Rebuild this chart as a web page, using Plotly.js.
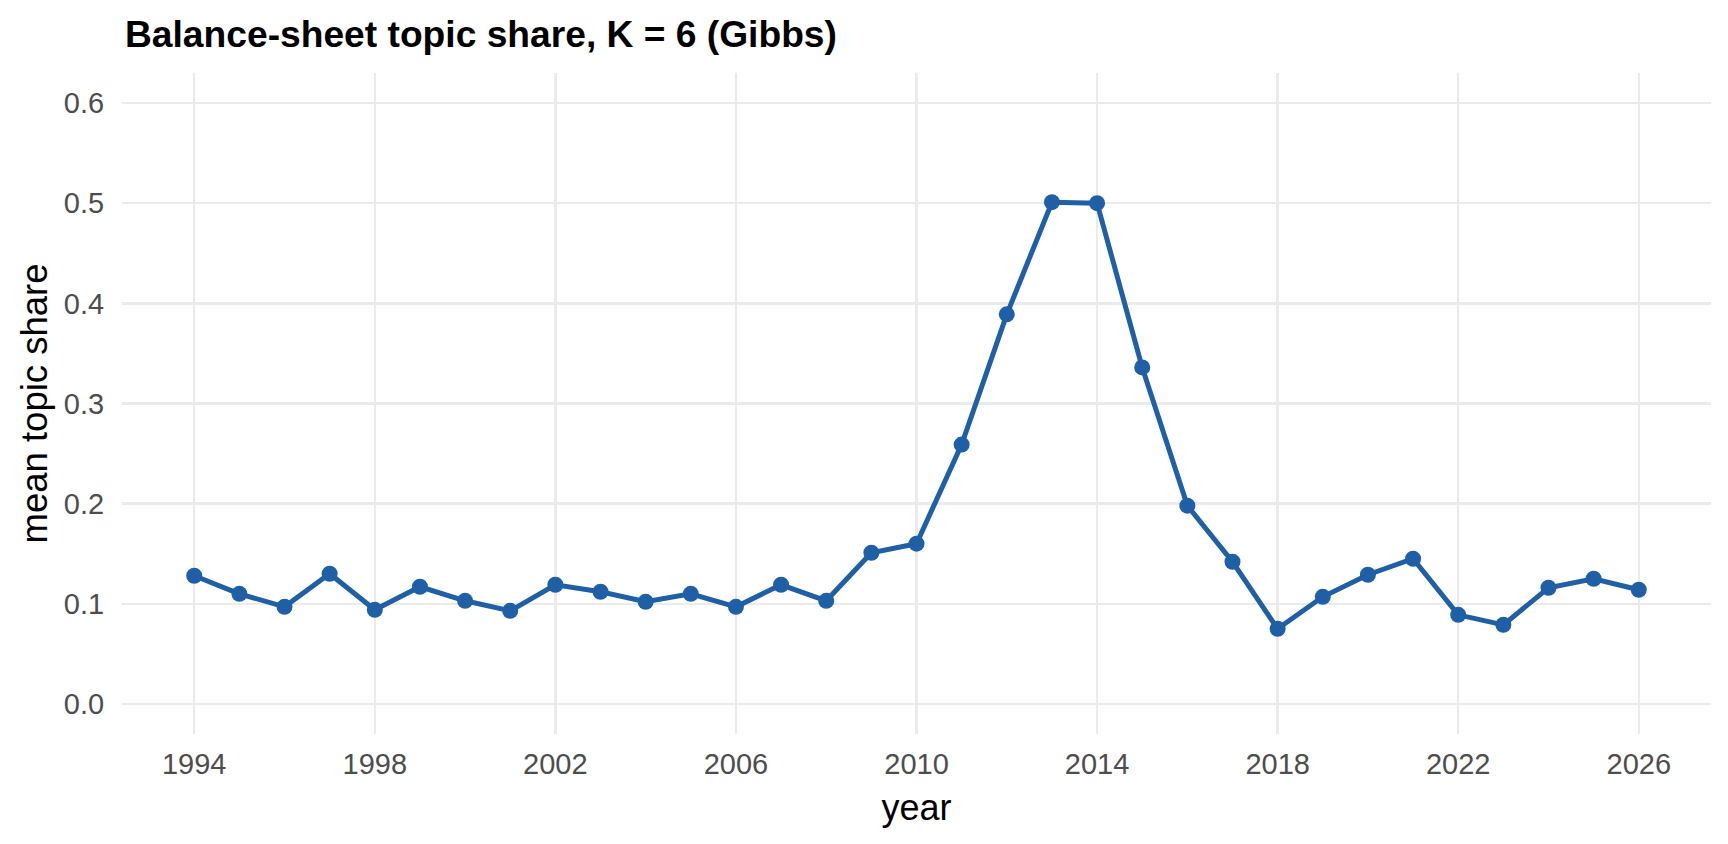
<!DOCTYPE html>
<html>
<head>
<meta charset="utf-8">
<script src="https://cdn.plot.ly/plotly-3.0.1.min.js"></script>
<style>
  html, body { margin: 0; padding: 0; background: #fff; }
  #chart { width: 1728px; height: 844px; }
</style>
</head>
<body>
<div id="chart"></div>
<script>
/* global Plotly */
const YEARS = [1994, 1995, 1996, 1997, 1998, 1999, 2000, 2001, 2002, 2003, 2004,
  2005, 2006, 2007, 2008, 2009, 2010, 2011, 2012, 2013, 2014, 2015,
  2016, 2017, 2018, 2019, 2020, 2021, 2022, 2023, 2024, 2025, 2026];

const SHARE = [0.128, 0.110, 0.097, 0.130, 0.094, 0.117, 0.103, 0.093, 0.119, 0.112, 0.102,
  0.110, 0.097, 0.119, 0.103, 0.151, 0.160, 0.259, 0.389, 0.501, 0.500, 0.336,
  0.198, 0.142, 0.075, 0.107, 0.129, 0.145, 0.089, 0.079, 0.116, 0.125, 0.114];

const X_TICKS = [1994, 1998, 2002, 2006, 2010, 2014, 2018, 2022, 2026];
const Y_TICKS = [0, 0.1, 0.2, 0.3, 0.4, 0.5, 0.6];
const Y_LABELS = ['0.0', '0.1', '0.2', '0.3', '0.4', '0.5', '0.6'];

const LINE_COLOUR = '#1f5fa5';
const GRID_COLOUR = '#ebebeb';
const FONT = 'Liberation Sans, Arial, sans-serif';

const trace = {
  x: YEARS,
  y: SHARE,
  type: 'scatter',
  mode: 'lines+markers',
  line: { color: LINE_COLOUR, width: 5 },
  marker: { color: LINE_COLOUR, size: 16 },
  hoverinfo: 'x+y'
};

const layout = {
  width: 1728,
  height: 844,
  margin: { l: 122, r: 17, t: 73, b: 110 },
  paper_bgcolor: '#fff',
  plot_bgcolor: '#fff',
  showlegend: false,
  font: { family: FONT, color: '#000' },
  title: {
    text: '<b>Balance-sheet topic share, K = 6 (Gibbs)</b>',
    font: { family: FONT, size: 37.2, color: '#000' },
    xref: 'container',
    yref: 'container',
    x: 125 / 1728,
    xanchor: 'left',
    y: 1 - 34 / 844,
    yanchor: 'middle'
  },
  xaxis: {
    range: [1992.4, 2027.6],
    tickvals: X_TICKS,
    ticktext: X_TICKS.map(String),
    showgrid: true,
    gridcolor: GRID_COLOUR,
    gridwidth: 2.5,
    zeroline: false,
    showline: false,
    ticks: 'outside',
    ticklen: 4,
    tickcolor: 'rgba(0,0,0,0)',
    tickfont: { family: FONT, size: 29, color: '#4d4d4d' },
    title: { text: 'year', font: { family: FONT, size: 36, color: '#000' }, standoff: 16 }
  },
  yaxis: {
    range: [-0.03, 0.63],
    tickvals: Y_TICKS,
    ticktext: Y_LABELS,
    showgrid: true,
    gridcolor: GRID_COLOUR,
    gridwidth: 2.5,
    zeroline: false,
    showline: false,
    ticks: 'outside',
    ticklen: 11,
    tickcolor: 'rgba(0,0,0,0)',
    tickfont: { family: FONT, size: 29, color: '#4d4d4d' },
    title: { text: 'mean topic share', font: { family: FONT, size: 36.5, color: '#000' }, standoff: 5 }
  }
};

Plotly.newPlot('chart', [trace], layout, { displayModeBar: false, staticPlot: true });
</script>
</body>
</html>
